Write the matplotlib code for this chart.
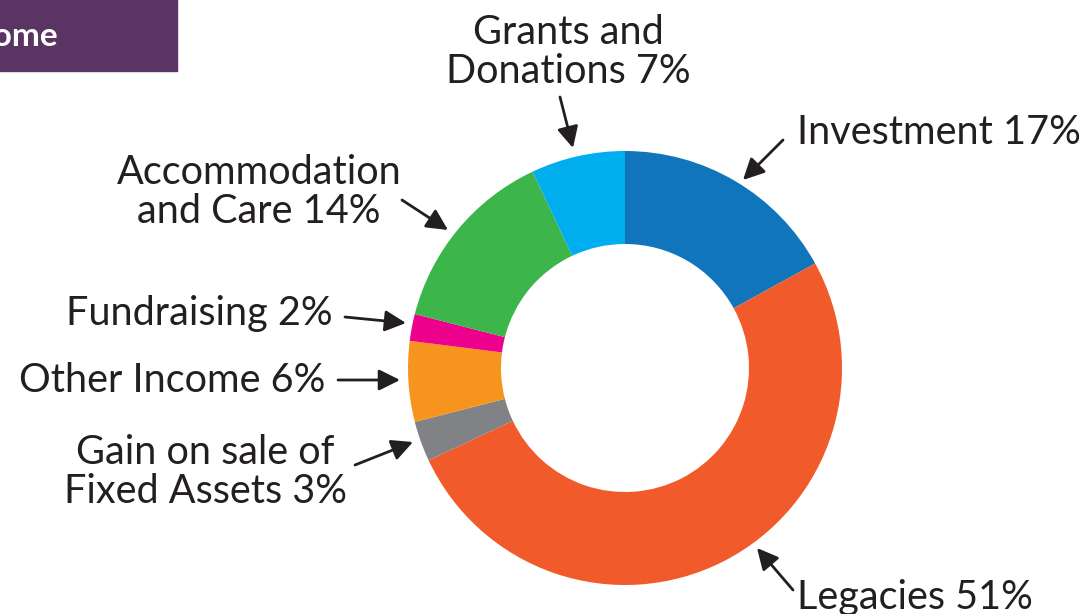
import matplotlib
matplotlib.use("Agg")
import matplotlib.pyplot as plt
from matplotlib.patches import Rectangle

W, H = 1087, 614

# ---- data ----
labels = ["Investment 17%", "Legacies 51%", "Gain on sale of\nFixed Assets 3%",
          "Other Income 6%", "Fundraising 2%", "Accommodation\nand Care 14%",
          "Grants and\nDonations 7%"]
shares = [17, 51, 3, 6, 2, 14, 7]
colors = ["#1175BB", "#F15A2B", "#808285", "#F7941E", "#EC008C", "#3CB54A", "#00AEEF"]

# label placement in image pixels (x, y, ha) and arrow (tail, head)
label_pos = [(797, 133, "left"), (797, 597, "left"), (205, 472, "center"),
             (325, 381, "right"), (333, 313, "right"), (259, 192, "center"),
             (568, 52, "center")]
arrows = [((783, 140), (743, 180)), ((793, 590), (757, 548)),
          ((355, 465), (413, 442)), ((338, 380), (400, 380)),
          ((345, 317), (406, 323)), ((402, 200), (448, 230)),
          ((560, 97), (573, 148))]

TXT = "#231F20"
plt.rcParams["font.family"] = ["Lato", "DejaVu Sans"]

fig = plt.figure(figsize=(W / 100, H / 100), dpi=100)
ax = fig.add_axes([0, 0, 1, 1])

def Y(y):  # image row -> data y
    return H - y

ax.pie(shares, colors=colors, startangle=90, counterclock=False,
       center=(625, Y(368)), radius=217,
       wedgeprops=dict(width=93, linewidth=0))

for lab, (x, y, ha) in zip(labels, label_pos):
    ax.text(x, Y(y), lab, ha=ha, va="center", fontsize=28.5, color=TXT,
            linespacing=1.08)

for tail, head in arrows:
    ax.annotate("", xy=(head[0], Y(head[1])), xytext=(tail[0], Y(tail[1])),
                arrowprops=dict(arrowstyle="-|>", color=TXT, lw=2,
                                mutation_scale=32, shrinkA=0, shrinkB=0))

# cropped header box (title runs off the left edge, as in the source)
ax.add_patch(Rectangle((0, Y(71)), 177, 71, color="#5A3462", zorder=3))
ax.text(58, Y(36), "Income", ha="right", va="center", fontsize=24,
        fontweight="bold", color="white", zorder=4)

ax.set_xlim(0, W)
ax.set_ylim(0, H)
ax.set_aspect("equal")
ax.axis("off")

fig.savefig("out.png", dpi=100)
